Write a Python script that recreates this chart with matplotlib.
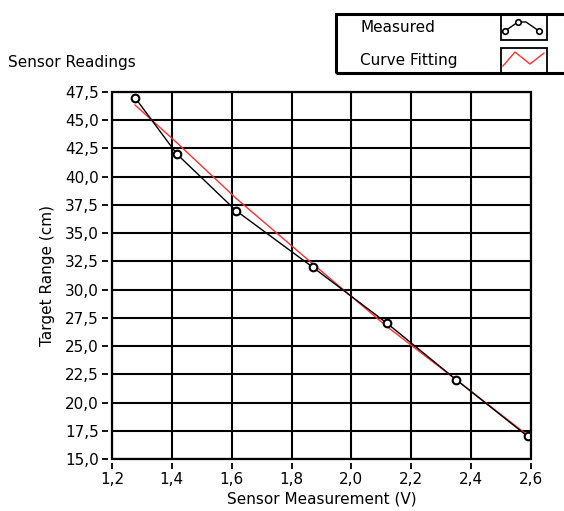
import numpy as np
import matplotlib.pyplot as plt
from matplotlib.lines import Line2D
from matplotlib.patches import Rectangle
from matplotlib.ticker import FuncFormatter

# sensor voltage vs. known target distance
voltage = [1.277, 1.417, 1.614, 1.870, 2.120, 2.351, 2.589]
distance = [47.0, 42.0, 37.0, 32.0, 27.0, 22.0, 17.0]
# fitted curve evaluated at the same voltages
fitted = [46.35, 43.0, 38.1, 32.3, 26.7, 22.0, 17.1]

x_ticks = np.arange(1.2, 2.61, 0.2)
y_ticks = np.arange(15.0, 47.6, 2.5)

W, H = 564, 511
fig = plt.figure(figsize=(W / 100, H / 100), dpi=100)
plt.rcParams['font.family'] = 'DejaVu Sans'
FS = 11

ax = fig.add_axes([112 / W, 1 - 459 / H, 419 / W, 367 / H])
ax.plot(voltage, distance, color='black', lw=1.0, marker='o', ms=5.5,
        mfc='white', mec='black', mew=1.5, zorder=4)
ax.plot(voltage, fitted, color='#ff3030', lw=1.0, zorder=3)

ax.set_xlim(1.2, 2.6)
ax.set_ylim(15.0, 47.5)
ax.set_xticks(x_ticks)
ax.set_yticks(y_ticks)
comma = lambda d: FuncFormatter(lambda v, p: f'{v:.{d}f}'.replace('.', ','))
ax.xaxis.set_major_formatter(comma(1))
ax.yaxis.set_major_formatter(comma(1))
ax.grid(True, color='black', lw=1.5, zorder=1)
ax.set_axisbelow(True)

# scales sit a few pixels away from the plot area
for side in ['left', 'bottom']:
    ax.spines[side].set_position(('outward', 3))
    ax.spines[side].set_visible(False)
for side in ['top', 'right']:
    ax.spines[side].set_visible(False)
ax.add_patch(Rectangle((0, 0), 1, 1, transform=ax.transAxes, fill=False,
                       lw=1.6, ec='black', clip_on=False, zorder=5))
ax.tick_params(direction='out', length=4.5, width=1.3, labelsize=FS, pad=2)

ax.set_xlabel('Sensor Measurement (V)', fontsize=FS, labelpad=3)
ax.set_ylabel('Target Range (cm)', fontsize=FS, labelpad=7)
fig.text(8 / W, 1 - 62 / H, 'Sensor Readings', fontsize=FS, va='center')

# legend panel
fig.add_artist(Rectangle((336 / W, 1 - 73 / H), 240 / W, 59 / H,
                         transform=fig.transFigure, fill=False, lw=2.2,
                         ec='black'))
fig.text(360 / W, 1 - 28 / H, 'Measured', fontsize=FS, va='center')
fig.text(360 / W, 1 - 60 / H, 'Curve Fitting', fontsize=FS, va='center')
for top in (15, 48):
    fig.add_artist(Rectangle((501 / W, 1 - (top + 25) / H), 46 / W, 25 / H,
                             transform=fig.transFigure, fill=False, lw=1.3,
                             ec='black'))
mx = np.array([505, 518, 526, 539]) / W
my = 1 - np.array([31, 22, 22, 31]) / H
fig.add_artist(Line2D(mx, my, transform=fig.transFigure, color='black',
                      lw=1.0))
fig.add_artist(Line2D(mx[[0, 1, 3]], my[[0, 1, 3]], transform=fig.transFigure,
                      ls='none', marker='o', ms=4, mfc='white', mec='black',
                      mew=1.2))
rx = np.array([503, 515, 530, 544]) / W
ry = 1 - np.array([66, 52, 64, 53]) / H
fig.add_artist(Line2D(rx, ry, transform=fig.transFigure, color='#ff3030',
                      lw=1.0))

fig.savefig('out.png', dpi=100)
